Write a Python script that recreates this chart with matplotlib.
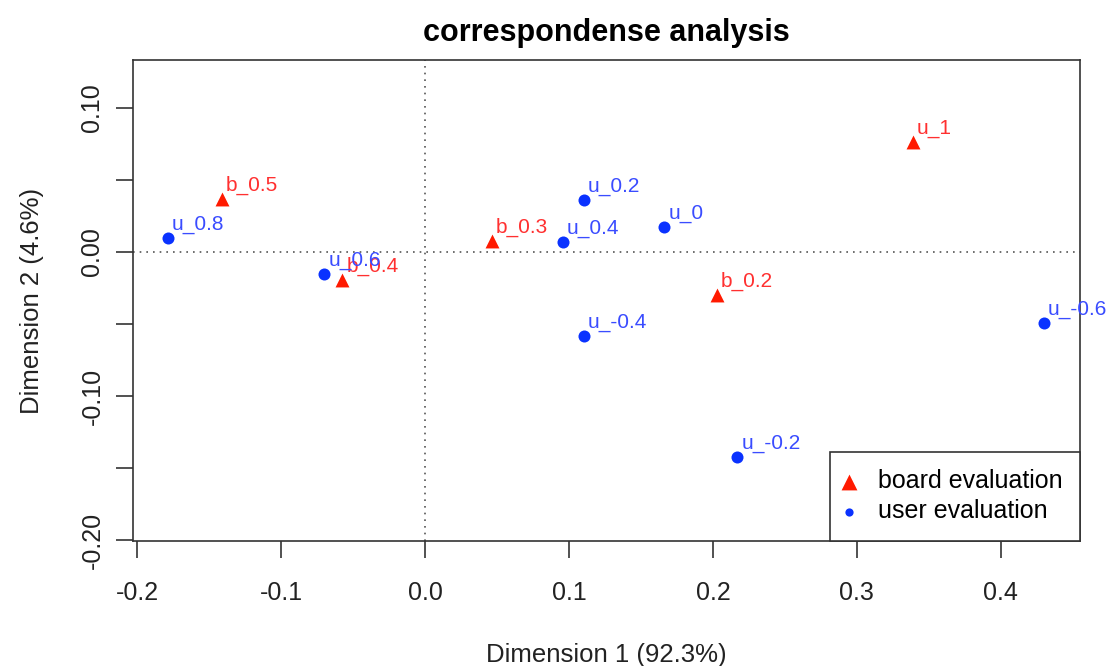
import matplotlib.pyplot as plt

# board evaluation points
board_labels = ["b_0.5", "b_0.4", "b_0.3", "b_0.2", "u_1"]
board_x = [-0.141, -0.0576, 0.0465, 0.2028, 0.3389]
board_y = [0.0368, -0.0194, 0.0076, -0.0299, 0.0764]

# user evaluation points
user_labels = ["u_0.8", "u_0.6", "u_0.4", "u_0.2", "u_0", "u_-0.4", "u_-0.6", "u_-0.2"]
user_x = [-0.1785, -0.0701, 0.0958, 0.1104, 0.166, 0.1104, 0.4299, 0.2167]
user_y = [0.0097, -0.0153, 0.0069, 0.0361, 0.0174, -0.0583, -0.0493, -0.1424]

xticks = [-0.2, -0.1, 0.0, 0.1, 0.2, 0.3, 0.4]
yticks = [-0.2, -0.15, -0.1, -0.05, 0.0, 0.05, 0.1]
ytick_labels = ["-0.20", "", "-0.10", "", "0.00", "", "0.10"]

plt.rcParams['font.family'] = ['Liberation Sans', 'DejaVu Sans']

fig = plt.figure(figsize=(11.09, 6.66), dpi=100)
ax = fig.add_axes([0.1199, 0.1877, 0.8539, 0.7222])

ax.axhline(0, color='#555555', linestyle=(0, (1, 3)), linewidth=1.2, zorder=1)
ax.axvline(0, color='#555555', linestyle=(0, (1, 3)), linewidth=1.2, zorder=1)

ax.scatter(board_x, board_y, marker='^', s=100, color='#ff1a00', linewidths=0,
           label='board evaluation', zorder=3)
ax.scatter(user_x, user_y, marker='o', s=75, color='#0a32ff', linewidths=0,
           label='user evaluation', zorder=3)

for lab, x, y in zip(board_labels, board_x, board_y):
    ax.annotate(lab, (x, y), xytext=(3, 9.5), textcoords='offset points',
                ha='left', va='center', color='#ff3030', fontsize=15, zorder=4)
for lab, x, y in zip(user_labels, user_x, user_y):
    ax.annotate(lab, (x, y), xytext=(3, 9.5), textcoords='offset points',
                ha='left', va='center', color='#3a4cff', fontsize=15, zorder=4)

ax.set_xlim(-0.2028, 0.4549)
ax.set_ylim(-0.2007, 0.1333)
ax.set_xticks(xticks)
ax.set_xticklabels(["%.1f" % v for v in xticks], fontsize=18, color='#222222')
ax.set_yticks(yticks)
ax.set_yticklabels(ytick_labels, fontsize=18, color='#222222',
                   rotation=90, va='center')
ax.tick_params(length=12, width=1.2, color='#333333')
ax.tick_params(axis='x', pad=17)
ax.tick_params(axis='y', pad=8.5)

ax.set_xlabel("Dimension 1 (92.3%)", fontsize=18.5, labelpad=27, color='#222222')
ax.set_ylabel("Dimension 2 (4.6%)", fontsize=18.5, labelpad=26.5, color='#222222')
ax.set_title("correspondense analysis", fontsize=22, fontweight='bold', pad=14)

for sp in ax.spines.values():
    sp.set_linewidth(1.2)
    sp.set_color('#333333')

leg = ax.legend(loc='lower right', fontsize=18, fancybox=False, framealpha=1,
                edgecolor='#333333', borderaxespad=0, handletextpad=1.1,
                handlelength=0.1, borderpad=0.7, labelspacing=0.25)
leg.get_frame().set_linewidth(1.2)
leg.legend_handles[0].set_sizes([130])
leg.legend_handles[1].set_sizes([35])

fig.savefig("out.png", dpi=100)
